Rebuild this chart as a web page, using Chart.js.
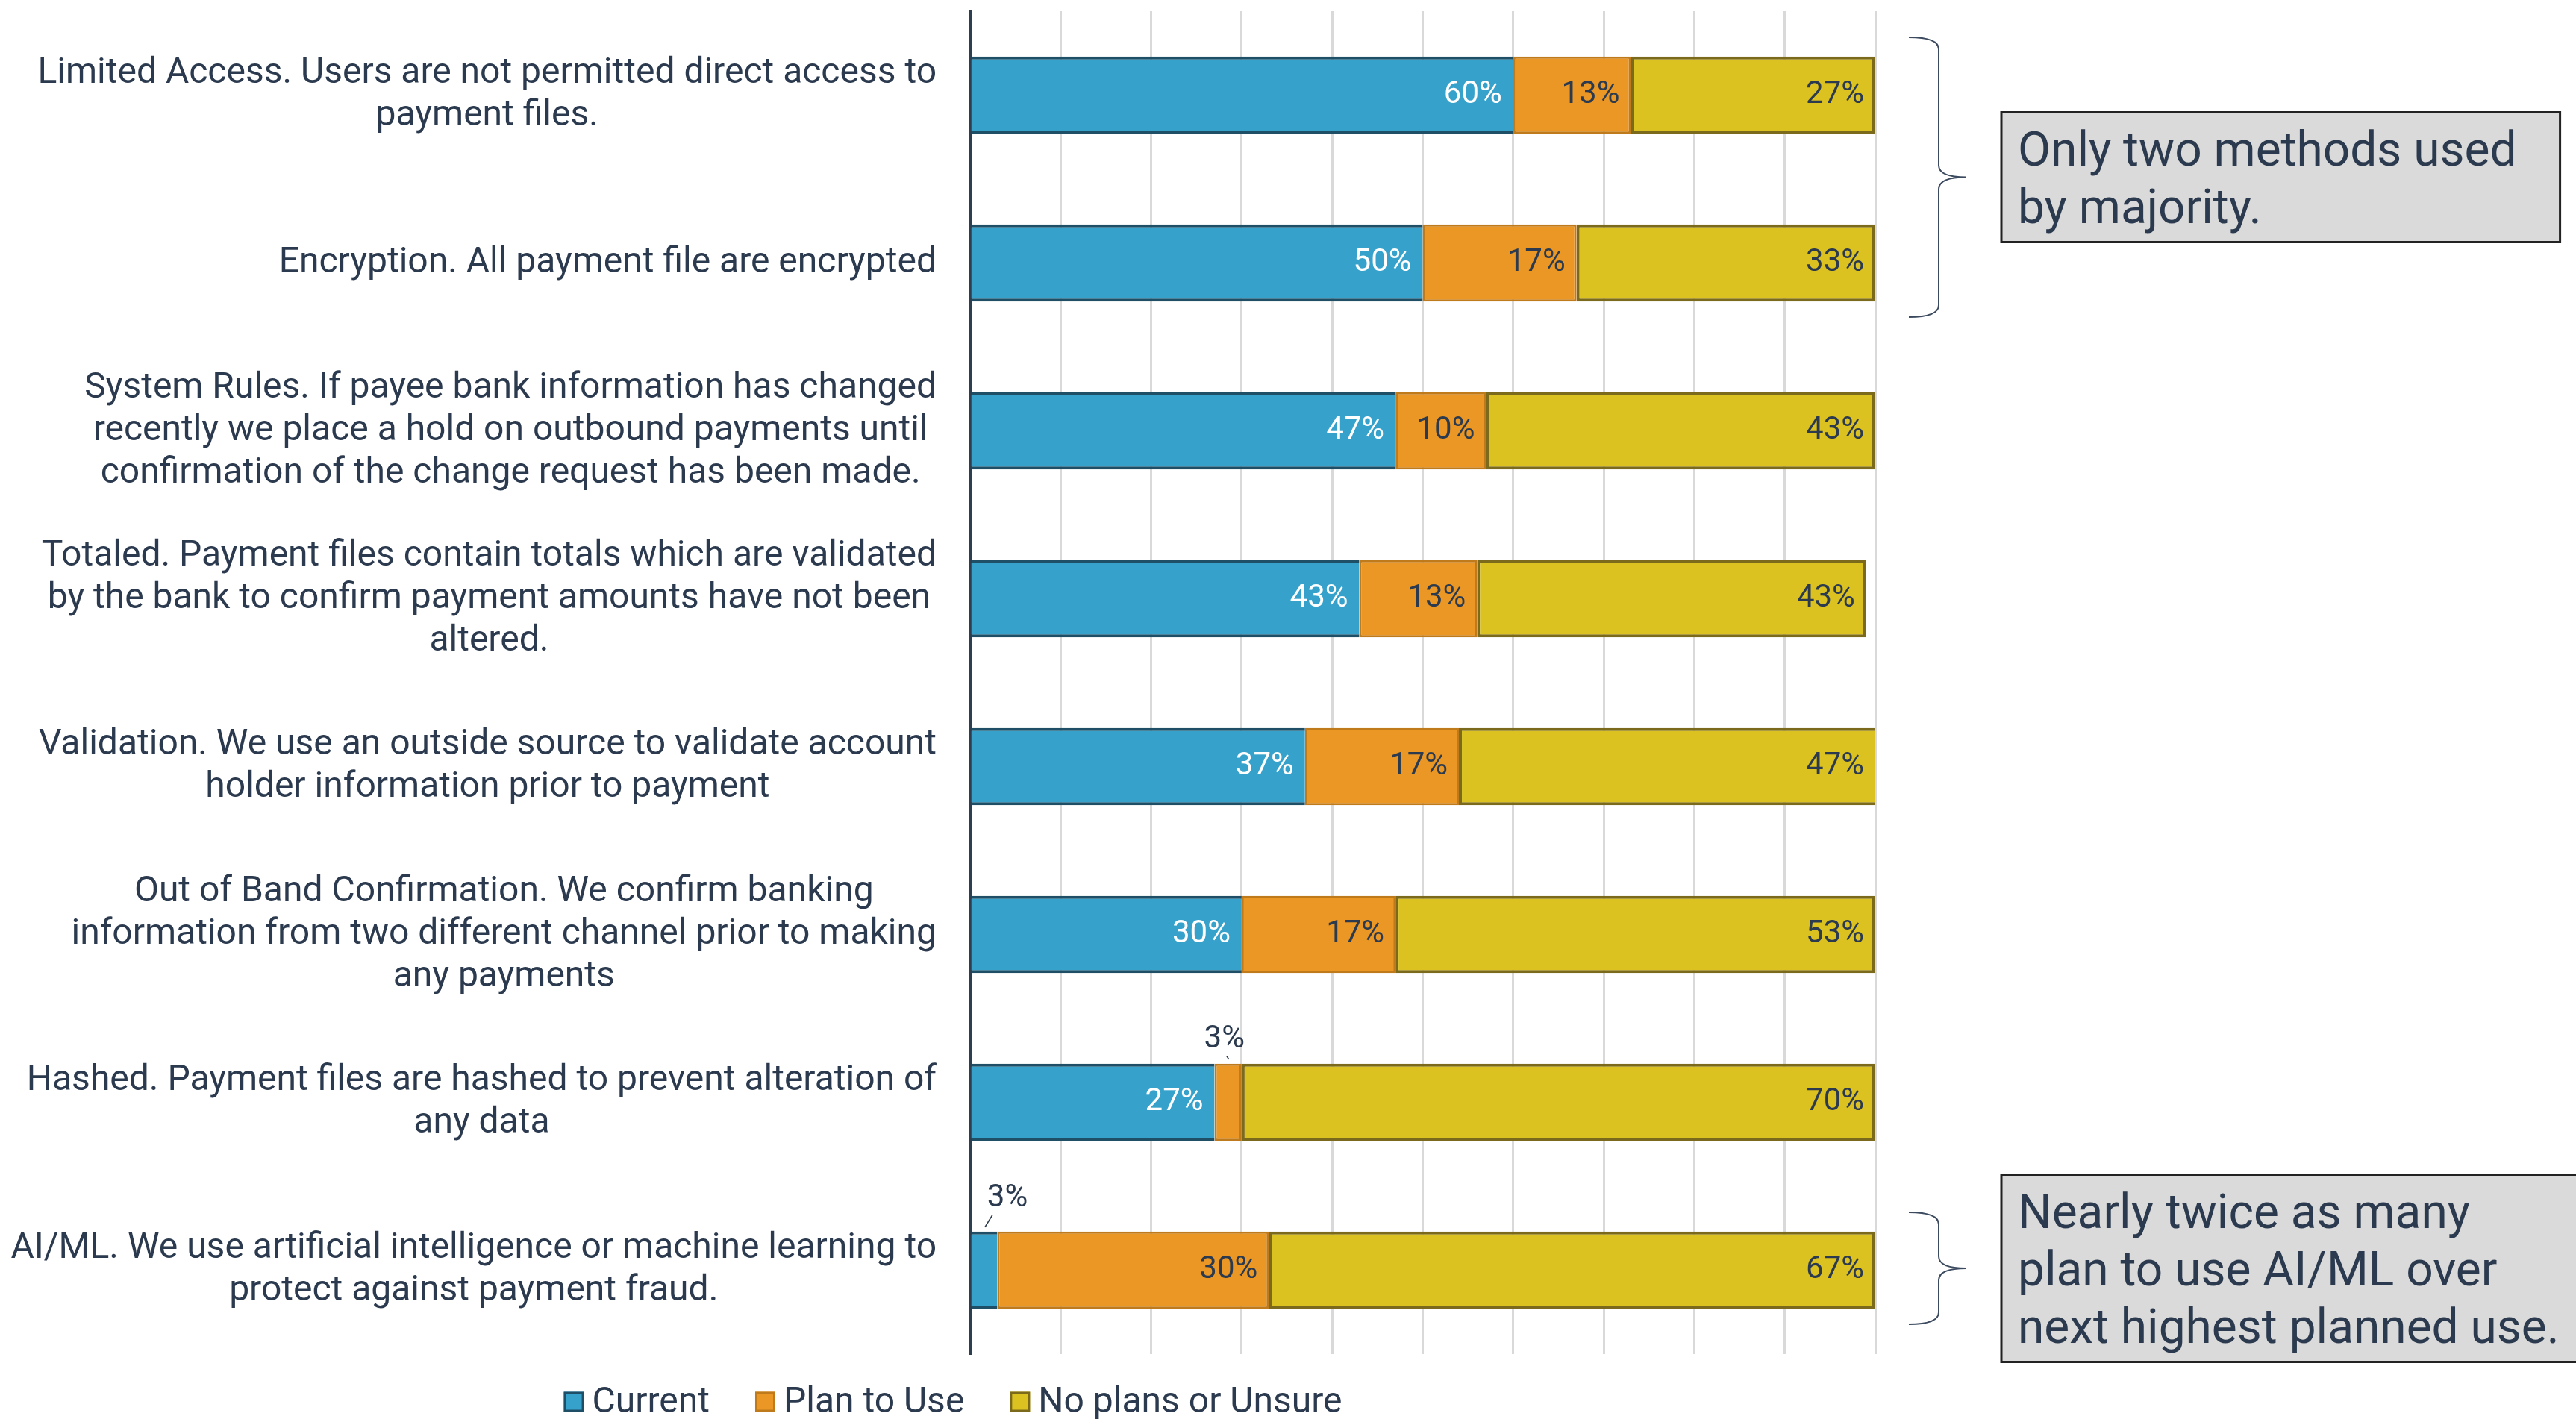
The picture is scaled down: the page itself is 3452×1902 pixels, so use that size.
<!DOCTYPE html>
<html>
<head>
<meta charset="utf-8">
<script src="https://cdn.jsdelivr.net/npm/chart.js@4/dist/chart.umd.min.js"></script>
<style>
  html, body { margin: 0; padding: 0; background: #fff; }
  canvas { display: block; }
</style>
</head>
<body>
<canvas id="grafica" width="3452" height="1902"></canvas>
<script>
// Métodos de protección de archivos de pago (etiquetas en varias líneas)
const methods = [
    ['Limited Access. Users are not permitted direct access to', 'payment files.'],
    ['Encryption. All payment file are encrypted'],
    ['System Rules. If payee bank information has changed', 'recently we place a hold on outbound payments until', 'confirmation of the change request has been made.'],
    ['Totaled. Payment files contain totals which are validated', 'by the bank to confirm payment amounts have not been', 'altered.'],
    ['Validation. We use an outside source to validate account', 'holder information prior to payment'],
    ['Out of Band Confirmation. We confirm banking', 'information from two different channel prior to making', 'any payments'],
    ['Hashed. Payment files are hashed to prevent alteration of', 'any data'],
    ['AI/ML. We use artificial intelligence or machine learning to', 'protect against payment fraud.']
]
const current = [60, 50, 47, 43, 37, 30, 27, 3]
const planToUse = [13, 17, 10, 13, 17, 17, 3, 30]
const noPlans = [27, 33, 43, 43, 47, 53, 70, 67]
const seriesNames = ['Current', 'Plan to Use', 'No plans or Unsure']

// Notas a la derecha: filas que abarca la llave y texto del recuadro
const notes = [
    { from: 0, to: 1, lines: ['Only two methods used', 'by majority.'] },
    { from: 7, to: 7, lines: ['Nearly twice as many', 'plan to use AI/ML over', 'next highest planned use.'] }
]

const ink = '#2b3a4e'
const fills = ['#36a2cb', '#ea9725', '#dcc221']
const borders = ['#1f4f66', '#bf7a1c', '#7b6a1c']

Chart.defaults.font.family = 'Roboto'
Chart.defaults.color = ink

const graph = document.querySelector('#grafica')

// Etiquetas del eje Y: bloque alineado a la derecha, líneas centradas
const categoryLabels = {
    id: 'categoryLabels',
    afterDraw(chart) {
        const { ctx, chartArea } = chart
        const y = chart.scales.y
        const right = chartArea.left - 45
        const lineH = 57
        ctx.save()
        ctx.font = '48px Roboto'
        ctx.fillStyle = ink
        ctx.textAlign = 'center'
        ctx.textBaseline = 'middle'
        methods.forEach((lines, i) => {
            const w = Math.max(...lines.map(l => ctx.measureText(l).width))
            const cx = right - w / 2
            const cy = y.getPixelForValue(i)
            lines.forEach((l, j) => ctx.fillText(l, cx, cy + (j - (lines.length - 1) / 2) * lineH))
        })
        ctx.restore()
    }
}

// Porcentajes dentro de cada barra; los muy pequeños van encima con una guía
const valueLabels = {
    id: 'valueLabels',
    afterDatasetsDraw(chart) {
        const { ctx, chartArea } = chart
        ctx.save()
        ctx.font = '42px Roboto'
        ctx.textBaseline = 'middle'
        chart.data.datasets.forEach((ds, d) => {
            const meta = chart.getDatasetMeta(d)
            meta.data.forEach((bar, i) => {
                const v = ds.data[i]
                const txt = v + '%'
                if (v >= 5) {
                    ctx.fillStyle = d === 0 ? '#ffffff' : ink
                    ctx.textAlign = 'right'
                    ctx.fillText(txt, Math.min(bar.x, chartArea.right) - 15, bar.y)
                } else {
                    const segX = (bar.x + bar.base) / 2
                    const top = bar.y - bar.height / 2
                    const tx = Math.max(segX - 5, chartArea.left + 50)
                    const ty = top - (tx > segX + 10 ? 44 : 32)
                    ctx.fillStyle = ink
                    ctx.textAlign = 'center'
                    ctx.fillText(txt, tx, ty)
                    ctx.strokeStyle = ink
                    ctx.lineWidth = 1.5
                    ctx.beginPath()
                    ctx.moveTo(segX + 1, top - 6)
                    ctx.lineTo(segX + (tx - segX) * 0.35, ty + 22)
                    ctx.stroke()
                }
            })
        })
        ctx.restore()
    }
}

// Leyenda inferior
const bottomLegend = {
    id: 'bottomLegend',
    afterDraw(chart) {
        const { ctx } = chart
        const box = 27, gapText = 11, gapItem = 61, cy = 1879
        ctx.save()
        ctx.font = '48px Roboto'
        ctx.textBaseline = 'middle'
        ctx.textAlign = 'left'
        const widths = chart.data.datasets.map(ds => ctx.measureText(ds.label).width)
        const total = widths.reduce((a, w) => a + box + gapText + w, 0) + gapItem * (widths.length - 1)
        let x = 1277 - total / 2
        chart.data.datasets.forEach((ds, d) => {
            ctx.fillStyle = ds.backgroundColor
            ctx.fillRect(x, cy - box / 2, box, box)
            ctx.strokeStyle = ds.borderColor
            ctx.lineWidth = 3
            ctx.strokeRect(x + 1.5, cy - box / 2 + 1.5, box - 3, box - 3)
            ctx.fillStyle = ink
            ctx.fillText(ds.label, x + box + gapText, cy + 2)
            x += box + gapText + widths[d] + gapItem
        })
        ctx.restore()
    }
}

// Llaves y recuadros de comentario
const sideNotes = {
    id: 'sideNotes',
    afterDraw(chart) {
        const { ctx, chartArea } = chart
        const y = chart.scales.y
        const half = 112.5
        const x0 = chartArea.right + 45, xv = x0 + 40, tip = chartArea.right + 122
        const boxL = chartArea.right + 169
        ctx.save()
        notes.forEach(n => {
            const top = y.getPixelForValue(n.from) - half + 35
            const bottom = y.getPixelForValue(n.to) + half - 40
            const mid = (top + bottom) / 2
            const r = 16
            ctx.strokeStyle = '#3b4a5e'
            ctx.lineWidth = 2
            ctx.beginPath()
            ctx.moveTo(x0, top)
            ctx.quadraticCurveTo(xv, top, xv, top + r)
            ctx.lineTo(xv, mid - r)
            ctx.quadraticCurveTo(xv, mid, tip, mid)
            ctx.moveTo(tip, mid)
            ctx.quadraticCurveTo(xv, mid, xv, mid + r)
            ctx.lineTo(xv, bottom - r)
            ctx.quadraticCurveTo(xv, bottom, x0, bottom)
            ctx.stroke()

            ctx.font = '64px Roboto'
            const tw = Math.max(...n.lines.map(l => ctx.measureText(l).width))
            const h = n.lines.length * 77 + 20
            const bt = mid - h / 2
            ctx.fillStyle = '#dadada'
            ctx.fillRect(boxL, bt, tw + 80, h)
            ctx.strokeStyle = '#222'
            ctx.lineWidth = 3
            ctx.strokeRect(boxL, bt, tw + 80, h)
            ctx.fillStyle = ink
            ctx.textAlign = 'left'
            ctx.textBaseline = 'alphabetic'
            n.lines.forEach((l, j) => ctx.fillText(l, boxL + 22, bt + 71 + j * 77))
        })
        ctx.restore()
    }
}

const data = {
    labels: methods,
    datasets: [current, planToUse, noPlans].map((values, d) => ({
        label: seriesNames[d],
        data: values,
        backgroundColor: fills[d],
        borderColor: borders[d],
        borderWidth: d === 0 ? { top: 4, bottom: 4, left: 0, right: 0 } : (d === 1 ? 3 : 4),
        borderSkipped: false,
        categoryPercentage: 1,
        barPercentage: 0.46
    }))
}

const config = {
    type: 'bar',
    data: data,
    options: {
        indexAxis: 'y',
        responsive: false,
        animation: false,
        devicePixelRatio: 1,
        layout: { padding: { left: 1300, right: 939, top: 15, bottom: 87 } },
        plugins: {
            legend: { display: false },
            tooltip: { enabled: false }
        },
        scales: {
            x: {
                stacked: true,
                min: 0,
                max: 100,
                ticks: { display: false, stepSize: 10 },
                grid: { color: '#d9d9d9', lineWidth: 3, drawTicks: false },
                border: { display: false }
            },
            y: {
                stacked: true,
                z: 1,
                ticks: { display: false },
                grid: { display: false, drawTicks: false },
                border: { display: true, color: '#2d3e50', width: 3 }
            }
        }
    },
    plugins: [categoryLabels, valueLabels, bottomLegend, sideNotes]
}

new Chart(graph, config)
</script>
</body>
</html>
